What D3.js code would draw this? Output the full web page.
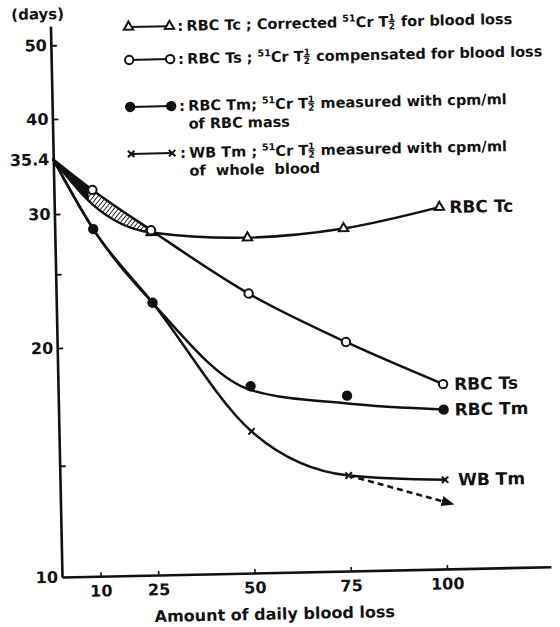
<!DOCTYPE html>
<html>
<head>
<meta charset="utf-8">
<script src="https://cdn.jsdelivr.net/npm/d3@7"></script>
<style>
  html, body { margin: 0; padding: 0; background: #fff; }
  svg text { font-family: "DejaVu Sans", sans-serif; font-weight: bold; fill: #111; white-space: pre; }
</style>
</head>
<body>
<svg id="chart" width="560" height="627"></svg>
<script>
// Amount of daily blood loss (x) and 51Cr half-life in days (y)
const lossX   = [0, 10, 25, 50, 75, 100];
const tcDays  = [35.4, 30.8, 28.2, 27.6, 28.2, 29.9];   // RBC Tc
const tsDays  = [35.4, 32.2, 28.4, 23.3, 20.0, 17.5];   // RBC Ts
const tmDays  = [35.4, 28.6, 22.8, 17.6, 17.0, 16.2];   // RBC Tm, measured points
const tmFit   = [35.4, 28.6, 22.8, 17.4, 16.6, 16.2];   // RBC Tm, fitted curve
const wbDays  = [35.4, 28.6, 22.8, 15.35, 13.35, 13.1]; // WB Tm
const wbTrendX = [75, 101];
const wbTrendDays = [13.35, 12.2];

const yTickMarks  = [14, 20, 25, 30, 40, 50];
const yTickLabels = [10, 20, 30, 35.4, 40, 50];
const xTickLabels = [10, 25, 50, 75, 100];
const bandEndX = 25;

const svg = d3.select("#chart");
const x = d3.scaleLinear().domain([0, 127]).range([62, 551]);
const y = d3.scaleLog().domain([10, 53]).range([577, 26]);

const defs = svg.append("defs");
const hatch = defs.append("pattern").attr("id", "hatch")
  .attr("patternUnits", "userSpaceOnUse").attr("width", 3.4).attr("height", 3.4)
  .attr("patternTransform", "rotate(40)");
hatch.append("line").attr("x1", 0).attr("y1", 0).attr("x2", 0).attr("y2", 3.4)
  .attr("stroke", "#111").attr("stroke-width", 1.7);
defs.append("clipPath").attr("id", "bandClip").append("rect")
  .attr("x", x(0)).attr("y", 0).attr("width", x(bandEndX) - x(0)).attr("height", 627);
defs.append("clipPath").attr("id", "bandDark").append("rect")
  .attr("x", x(0)).attr("y", 0).attr("width", x(9) - x(0)).attr("height", 627);
defs.append("marker").attr("id", "arrow").attr("viewBox", "0 0 10 10")
  .attr("refX", 6).attr("refY", 5).attr("markerWidth", 5).attr("markerHeight", 5)
  .attr("orient", "auto").attr("markerUnits", "strokeWidth")
  .append("path").attr("d", "M0,1 L10,5 L0,9 Z").attr("fill", "#111");

// the whole figure sits slightly tilted
const g = svg.append("g").attr("transform", `rotate(-1.2, ${x(0)}, ${y(10)})`);

// axes
const yAxisTicks = g.append("g").attr("transform", `translate(${x(0)},0)`)
  .call(d3.axisLeft(y).tickValues(yTickMarks).tickSize(-6).tickSizeOuter(0).tickFormat(""));
yAxisTicks.select(".domain").attr("stroke", "#111").attr("stroke-width", 2.6);
yAxisTicks.selectAll(".tick line").attr("stroke", "#111").attr("stroke-width", 1.8);

const yAxisLabels = g.append("g").attr("transform", `translate(${x(0)},0)`)
  .call(d3.axisLeft(y).tickValues(yTickLabels).tickSize(0).tickPadding(4)
    .tickFormat(d => d === 35.4 ? "35.4" : String(d)));
yAxisLabels.select(".domain").remove();
yAxisLabels.selectAll("text").attr("font-family", null).style("font-size", "16px");

const xAxis = g.append("g").attr("transform", `translate(0,${y(10)})`)
  .call(d3.axisBottom(x).tickValues(xTickLabels).tickSize(-4).tickSizeOuter(0).tickPadding(9));
xAxis.select(".domain").attr("stroke", "#111").attr("stroke-width", 2.6);
xAxis.selectAll(".tick line").attr("stroke", "#111").attr("stroke-width", 1.6);
xAxis.selectAll("text").attr("font-family", null).style("font-size", "16px");

g.append("text").attr("x", 23).attr("y", 19).style("font-size", "15px").text("(days)");
g.append("text").attr("x", 274).attr("y", 624).attr("text-anchor", "middle")
  .style("font-size", "16px").text("Amount of daily blood loss");

// shaded band between Ts and Tc
const curve = d3.curveMonotoneX;
const rows = lossX.map((v, i) => ({ x: v, tc: tcDays[i], ts: tsDays[i] }));
const band = d3.area().x(d => x(d.x)).y0(d => y(d.tc)).y1(d => y(d.ts)).curve(curve);
g.append("path").attr("d", band(rows)).attr("fill", "url(#hatch)").attr("clip-path", "url(#bandClip)");
g.append("path").attr("d", band(rows)).attr("fill", "#111").attr("clip-path", "url(#bandDark)");

// curves
const line = (xs, vs) => d3.line().x((d, i) => x(xs[i])).y(d => y(d)).curve(curve)(vs);
const drawCurve = (xs, vs, w) => g.append("path").attr("d", line(xs, vs))
  .attr("fill", "none").attr("stroke", "#111").attr("stroke-width", w).attr("stroke-linecap", "round");
drawCurve(lossX, tcDays, 2.4);
drawCurve(lossX, tsDays, 2.5);
drawCurve(lossX, tmFit, 2.5);
drawCurve(lossX, wbDays, 2.5);
g.append("path").attr("d", d3.line().x((d, i) => x(wbTrendX[i])).y(d => y(d))(wbTrendDays))
  .attr("fill", "none").attr("stroke", "#111").attr("stroke-width", 2.6)
  .attr("stroke-dasharray", "6,4").attr("marker-end", "url(#arrow)");

// marker shapes
const tri = d3.symbol().type(d3.symbolTriangle).size(38)();
const cross = "M-3.2,-3.2L3.2,3.2M-3.2,3.2L3.2,-3.2";
function mark(type, cx, cy) {
  if (type === "tri") {
    g.append("path").attr("d", tri).attr("transform", `translate(${cx},${cy})`)
      .attr("fill", "#fff").attr("stroke", "#111").attr("stroke-width", 2);
  } else if (type === "open") {
    g.append("circle").attr("cx", cx).attr("cy", cy).attr("r", 4.2)
      .attr("fill", "#fff").attr("stroke", "#111").attr("stroke-width", 2);
  } else if (type === "fill") {
    g.append("circle").attr("cx", cx).attr("cy", cy).attr("r", 5.2).attr("fill", "#111");
  } else {
    g.append("path").attr("d", cross).attr("transform", `translate(${cx},${cy})`)
      .attr("fill", "none").attr("stroke", "#111").attr("stroke-width", 2);
  }
}
lossX.forEach((v, i) => { if (i > 0) mark("cross", x(v), y(wbDays[i])); });
lossX.forEach((v, i) => { if (i > 1) mark("tri", x(v), y(tcDays[i])); });
lossX.forEach((v, i) => { if (i > 0) mark("open", x(v), y(tsDays[i])); });
lossX.forEach((v, i) => { if (i > 0) mark("fill", x(v), y(tmDays[i])); });

// end labels
const endLabel = (v, dx, t) => g.append("text").attr("x", x(100) + dx).attr("y", y(v))
  .attr("dy", "0.36em").style("font-size", "17px").text(t);
endLabel(tcDays[5], 10, "RBC Tc");
endLabel(tsDays[5], 11, "RBC Ts");
endLabel(tmDays[5], 11, "RBC Tm");
endLabel(wbDays[5], 13, "WB Tm");

// legend
function richText(x0, y0, parts, size) {
  let cx = x0;
  parts.forEach(p => {
    if (p.frac) {
      const fs = size * 0.62, w = fs * 0.72;
      g.append("text").attr("x", cx + w / 2).attr("y", y0 - size * 0.42).attr("text-anchor", "middle")
        .style("font-size", fs + "px").text("1");
      g.append("line").attr("x1", cx).attr("x2", cx + w).attr("y1", y0 - size * 0.34).attr("y2", y0 - size * 0.34)
        .attr("stroke", "#111").attr("stroke-width", 1.1);
      g.append("text").attr("x", cx + w / 2).attr("y", y0 + size * 0.18).attr("text-anchor", "middle")
        .style("font-size", fs + "px").text("2");
      cx += w + 1;
    } else {
      const fs = p.sup ? size * 0.66 : size;
      const t = g.append("text").attr("x", cx).attr("y", p.sup ? y0 - size * 0.4 : y0)
        .style("font-size", fs + "px").text(p.t);
      cx += t.node().getComputedTextLength();
    }
  });
}
const legendRows = [
  { type: "tri",   y: 28.5,  lines: [[{ t: "RBC Tc ; Corrected " }, { t: "51", sup: 1 }, { t: "Cr T" }, { frac: 1 }, { t: " for blood loss" }]] },
  { type: "open",  y: 61.5,  lines: [[{ t: "RBC Ts ; " }, { t: "51", sup: 1 }, { t: "Cr T" }, { frac: 1 }, { t: " compensated for blood loss" }]] },
  { type: "fill",  y: 108.5, lines: [[{ t: "RBC Tm; " }, { t: "51", sup: 1 }, { t: "Cr T" }, { frac: 1 }, { t: " measured with cpm/ml" }], [{ t: "of RBC mass" }]] },
  { type: "cross", y: 155.5, lines: [[{ t: "WB Tm ; " }, { t: "51", sup: 1 }, { t: "Cr T" }, { frac: 1 }, { t: " measured with cpm/ml" }], [{ t: "of  whole  blood" }]] }
];
legendRows.forEach(r => {
  g.append("line").attr("x1", 140).attr("x2", 181).attr("y1", r.y).attr("y2", r.y)
    .attr("stroke", "#111").attr("stroke-width", 2);
  mark(r.type, 140, r.y);
  mark(r.type, 181, r.y);
  g.append("text").attr("x", 189).attr("y", r.y + 5).style("font-size", "14.5px").text(":");
  r.lines.forEach((ln, k) => richText(198, r.y + 5 + k * 18, ln, 14.5));
});
</script>
</body>
</html>
